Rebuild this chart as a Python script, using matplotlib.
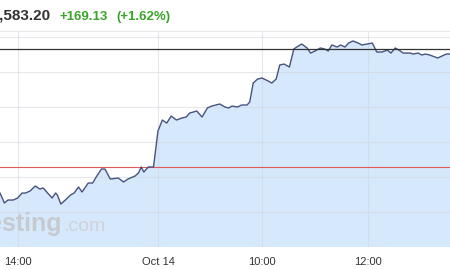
import matplotlib
matplotlib.use("Agg")
import matplotlib.pyplot as plt

# elapsed trading minutes relative to 10:00 on Oct 14
minutes = [-297, -292, -288, -282, -277, -272, -268, -263, -257, -252, -248, -243,
           -238, -234, -232, -228, -223, -217, -213, -208, -204, -197, -192, -188,
           -182, -178, -172, -163, -157, -152, -144, -140, -137, -134, -129, -125,
           -123, -118, -113, -108, -103, -97, -91, -86, -82, -74, -68, -62, -57,
           -48, -42, -38, -34, -28, -23, -17, -14, -10, -5, 0, 7, 11, 16, 20, 25,
           31, 36, 41, 45, 51, 55, 60, 66, 71, 75, 79, 85, 89, 94, 98, 103, 109,
           113, 119, 125, 130, 136, 142, 146, 151, 155, 160, 168, 171, 177, 181,
           185, 190, 199, 204, 209, 213]
prices = [10377.1, 10362.9, 10367.1, 10367.1, 10370.0, 10377.1, 10377.1, 10380.0,
          10387.1, 10382.9, 10384.3, 10377.1, 10370.0, 10377.1, 10374.3, 10361.4,
          10367.1, 10374.3, 10377.1, 10385.7, 10378.6, 10391.4, 10391.4, 10400.0,
          10411.4, 10411.4, 10397.1, 10398.6, 10392.9, 10397.1, 10401.4, 10405.7,
          10414.3, 10407.1, 10414.3, 10414.3, 10414.3, 10465.7, 10481.4, 10477.1,
          10487.1, 10481.4, 10484.3, 10485.7, 10491.4, 10494.3, 10485.7, 10498.6,
          10501.4, 10504.3, 10500.0, 10498.6, 10501.4, 10500.0, 10502.9, 10502.9,
          10507.1, 10534.3, 10540.0, 10541.4, 10537.1, 10534.3, 10540.0, 10560.0,
          10561.4, 10557.1, 10582.9, 10587.1, 10590.0, 10584.3, 10577.1, 10580.0,
          10584.3, 10582.9, 10580.0, 10588.6, 10585.7, 10588.6, 10585.7, 10591.4,
          10594.3, 10591.4, 10588.6, 10590.0, 10591.4, 10578.6, 10578.6, 10581.4,
          10577.1, 10584.3, 10581.4, 10577.1, 10577.1, 10575.7, 10577.1, 10574.3,
          10575.7, 10574.3, 10570.0, 10572.9, 10575.7, 10575.7]

tick_pos = [-277, -118, 0, 120]
tick_labels = ["14:00", "Oct 14", "10:00", "12:00"]
y_grid = [10300, 10350, 10400, 10450, 10500, 10550, 10600]

last_price = 10583.20
prev_close = 10414.07
change_txt = "+169.13"
pct_txt = "(+1.62%)"
price_txt = "10,583.20"

W, H = 450, 270
fig = plt.figure(figsize=(4.5, 2.7), dpi=100)
fig.patch.set_facecolor("white")
ax = fig.add_axes([0, (H - 247) / H, 1, 216 / H])
ymin = 10300
ax.set_xlim(-297, 213)
ax.set_ylim(ymin, 10608.6)

ax.fill_between(minutes, prices, ymin, color="#d6e8fc", zorder=1, lw=0)
ax.plot(minutes, prices, color="#48537f", lw=1.0, zorder=4)

for g in y_grid:
    ax.axhline(g, color="#d2d7df", lw=0.8, alpha=0.6, zorder=2)
for t in tick_pos:
    ax.axvline(t, color="#d2d7df", lw=0.8, alpha=0.6, zorder=2)

ax.axhline(last_price, color="#333333", lw=0.9, zorder=5)
ax.axhline(prev_close, color="#e05a5a", lw=0.8, zorder=3)

for s in ["left", "right", "bottom"]:
    ax.spines[s].set_visible(False)
ax.spines["top"].set_color("#e6e8ec")
ax.spines["top"].set_linewidth(0.8)
ax.set_yticks([])
ax.set_xticks(tick_pos)
ax.set_xticklabels(tick_labels, fontsize=8, color="#333333", family="Liberation Sans")
ax.tick_params(axis="x", length=0, pad=7)

# watermark
fig.text(62 / W, 1 - 231 / H, "Investing", ha="right", va="baseline", fontsize=18,
         fontweight="bold", color="#c6cad0", family="Liberation Sans", zorder=6)
fig.text(63 / W, 1 - 231 / H, ".com", ha="left", va="baseline", fontsize=14,
         color="#cfd3d8", family="Liberation Sans", zorder=6)

# header
fig.text(50 / W, 1 - 20 / H, price_txt, ha="right", va="baseline", fontsize=11,
         fontweight="bold", color="#333333", family="Liberation Sans")
fig.text(60 / W, 1 - 20 / H, change_txt, ha="left", va="baseline", fontsize=9.5,
         fontweight="bold", color="#3aa52a", family="Liberation Sans")
fig.text(116 / W, 1 - 20 / H, pct_txt, ha="left", va="baseline", fontsize=9.5,
         fontweight="bold", color="#3aa52a", family="Liberation Sans")

fig.savefig("out.png", dpi=100)
